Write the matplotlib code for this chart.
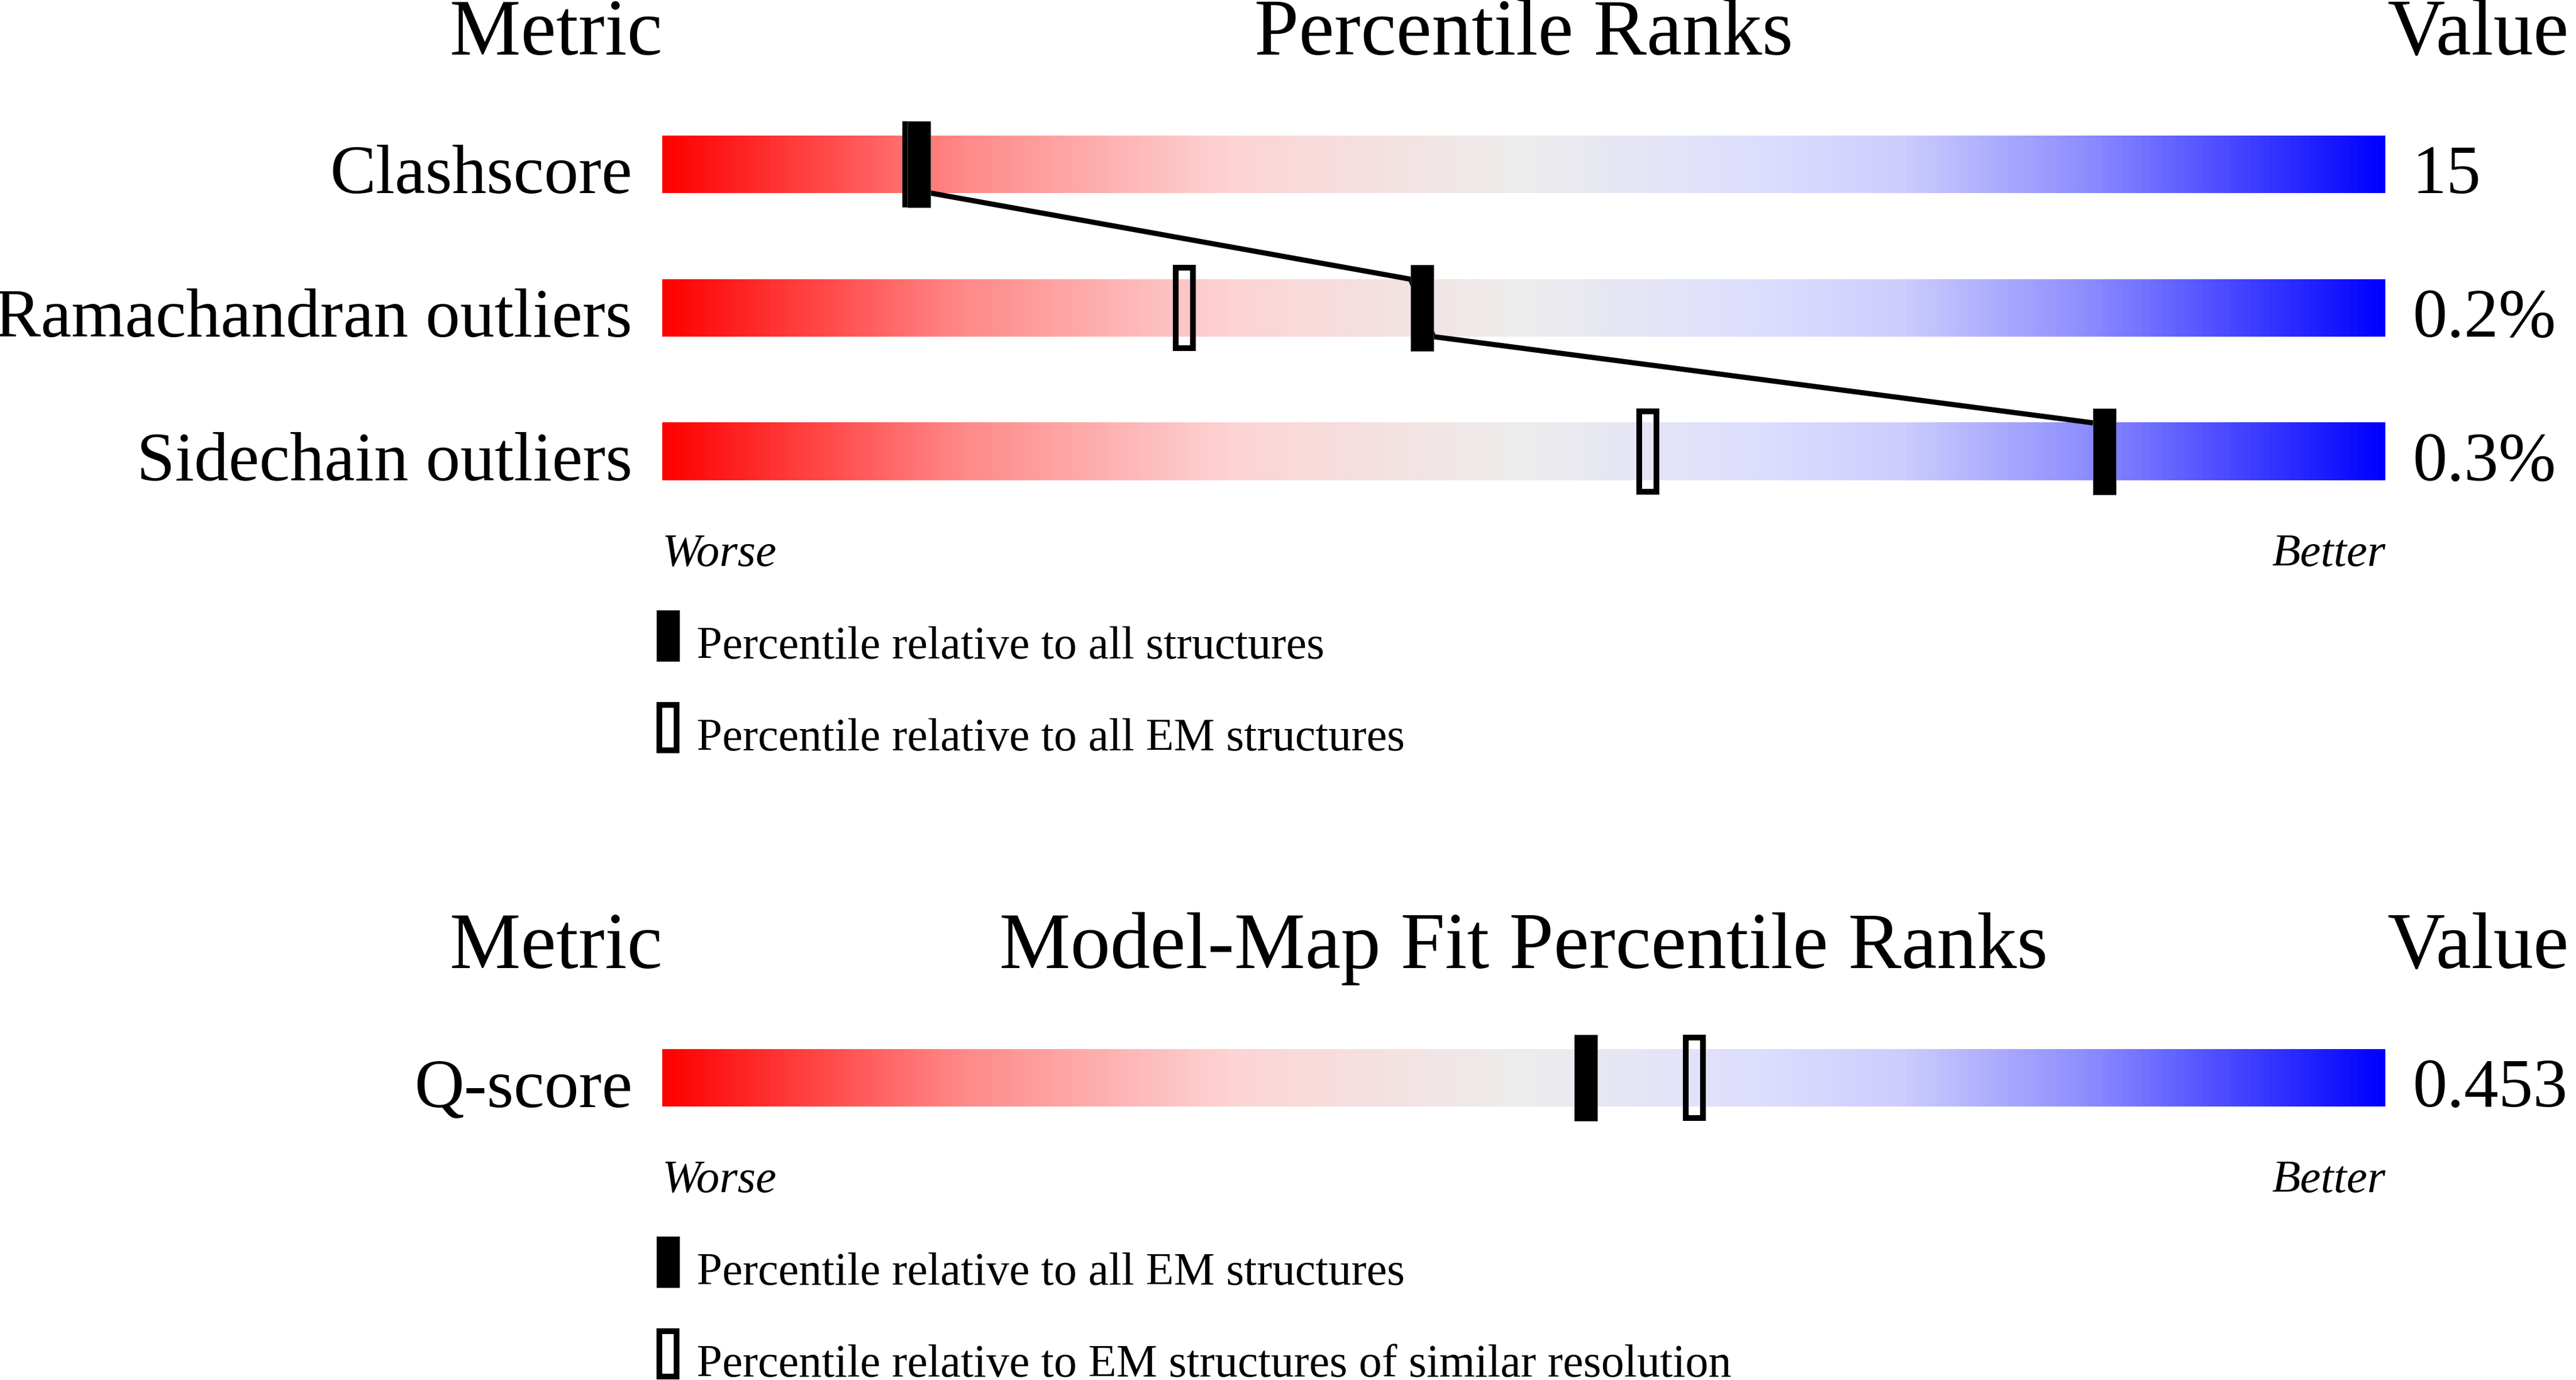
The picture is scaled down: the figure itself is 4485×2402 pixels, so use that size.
import numpy as np
import matplotlib
matplotlib.use("Agg")
import matplotlib.pyplot as plt
from matplotlib.colors import LinearSegmentedColormap

# ---------------- data ----------------
top_title = "Percentile Ranks"
top_metrics = ["Clashscore", "Ramachandran outliers", "Sidechain outliers"]
top_values = ["15", "0.2%", "0.3%"]
top_pct_all = [14.9, 44.1, 83.7]      # filled marker
top_pct_em = [14.6, 30.3, 57.2]       # open marker
top_legend = ["Percentile relative to all structures",
              "Percentile relative to all EM structures"]

fit_title = "Model-Map Fit Percentile Ranks"
fit_metrics = ["Q-score"]
fit_values = ["0.453"]
fit_pct_all = [53.6]                  # filled marker
fit_pct_sim = [59.9]                  # open marker
fit_legend = ["Percentile relative to all EM structures",
              "Percentile relative to EM structures of similar resolution"]

# ---------------- style ----------------
W, H, DPI = 4485, 2402, 100
BAR_L, BAR_R = 1153, 4153
PX_X = (BAR_R - BAR_L) / 100.0   # px per percentile unit
PX_Y = 250.0                     # px per row unit
FONT = ["Liberation Serif", "DejaVu Serif"]

grad = LinearSegmentedColormap.from_list("wwpdb", [
    (0.00, (1.0, 0.0, 0.0)),
    (0.17, (1.0, 135/255, 135/255)),
    (0.33, (253/255, 212/255, 212/255)),
    (0.50, (237/255, 237/255, 237/255)),
    (0.64, (221/255, 221/255, 1.0)),
    (0.72, (205/255, 205/255, 253/255)),
    (0.83, (140/255, 140/255, 1.0)),
    (1.00, (0.0, 0.0, 1.0)),
])

fig = plt.figure(figsize=(W / DPI, H / DPI), dpi=DPI)
fig.patch.set_facecolor("white")


def px(pt):
    return pt * 72.0 / DPI


def panel(center0, title, metrics, values, pct_fill, pct_open, legend, link):
    n = len(metrics)
    top = center0 - PX_Y / 2
    bot = center0 + (n - 1) * PX_Y + PX_Y / 2
    ax = fig.add_axes([BAR_L / W, 1 - bot / H, (BAR_R - BAR_L) / W, (bot - top) / H])
    ax.set_xlim(0, 100)
    ax.set_ylim(n - 0.5, -0.5)
    ax.axis("off")

    bar_h = 100 / PX_Y
    mk_w = 40 / PX_X
    mk_h = 150 / PX_Y
    border = 10
    gradient = np.linspace(0, 1, 1200).reshape(1, -1)

    hdr = px(139)
    ylab = -191 / PX_Y
    ax.text(0, ylab, "Metric", ha="right", va="baseline", fontsize=hdr,
            family=FONT, clip_on=False)
    ax.text(50, ylab, title, ha="center", va="baseline", fontsize=hdr,
            family=FONT, clip_on=False)
    ax.text(100.1, ylab, "Value", ha="left", va="baseline", fontsize=hdr,
            family=FONT, clip_on=False)

    for i in range(n):
        ax.imshow(gradient, cmap=grad, aspect="auto", interpolation="bilinear",
                  extent=[0, 100, i + bar_h / 2, i - bar_h / 2], zorder=1)
        ax.text(-52 / PX_X, i + bar_h / 2, metrics[i], ha="right", va="baseline",
                fontsize=px(120), family=FONT, clip_on=False)
        ax.text((4200 - BAR_L) / PX_X, i + bar_h / 2, values[i], ha="left",
                va="baseline", fontsize=px(120), family=FONT, clip_on=False)

    rows = np.arange(n)
    # open markers (stroke centred on edge -> shrink by half border)
    ax.bar(pct_open, mk_h - border / PX_Y, bottom=rows - mk_h / 2 + border / 2 / PX_Y,
           width=mk_w - border / PX_X, fill=False, edgecolor="black",
           linewidth=px(border), joinstyle="miter", zorder=3)
    # filled markers
    ax.bar(pct_fill, mk_h, bottom=rows - mk_h / 2, width=mk_w, color="black",
           edgecolor="#555555", linewidth=0.6, zorder=4)

    if link and n > 1:
        xs, ys = [], []
        for i in range(n):
            xs += [pct_fill[i] - mk_w / 2, pct_fill[i] + mk_w / 2]
            ys += [i - bar_h / 2, i + bar_h / 2]
        ax.plot(xs[1:-1], ys[1:-1], color="black", lw=px(9),
                solid_capstyle="butt", zorder=2)

    last = n - 1
    ax.text(0, last + 199 / PX_Y, "Worse", ha="left", va="baseline",
            fontsize=px(81), style="italic", family=FONT, clip_on=False)
    ax.text(100, last + 199 / PX_Y, "Better", ha="right", va="baseline",
            fontsize=px(81), style="italic", family=FONT, clip_on=False)

    lg_w = 40 / PX_X
    lg_h = 89 / PX_Y
    lg_x = 0.5 - 5 / PX_X
    t1 = last + 276 / PX_Y
    t2 = last + 436 / PX_Y
    ax.bar([lg_x], [lg_h], bottom=[t1], width=lg_w, color="black",
           edgecolor="#555555", linewidth=0.6, clip_on=False, zorder=4)
    ax.bar([lg_x], [lg_h - border / PX_Y], bottom=[t2 + border / 2 / PX_Y],
           width=lg_w - border / PX_X, fill=False, edgecolor="black",
           linewidth=px(border), joinstyle="miter", clip_on=False, zorder=4)
    ax.text(60 / PX_X, t1 + 84 / PX_Y, legend[0], ha="left", va="baseline",
            fontsize=px(80), family=FONT, clip_on=False)
    ax.text(60 / PX_X, t2 + 84 / PX_Y, legend[1], ha="left", va="baseline",
            fontsize=px(80), family=FONT, clip_on=False)
    return ax


panel(286, top_title, top_metrics, top_values, top_pct_all, top_pct_em, top_legend, True)
panel(1876, fit_title, fit_metrics, fit_values, fit_pct_all, fit_pct_sim, fit_legend, False)

fig.savefig("out.png", dpi=DPI, facecolor="white")
